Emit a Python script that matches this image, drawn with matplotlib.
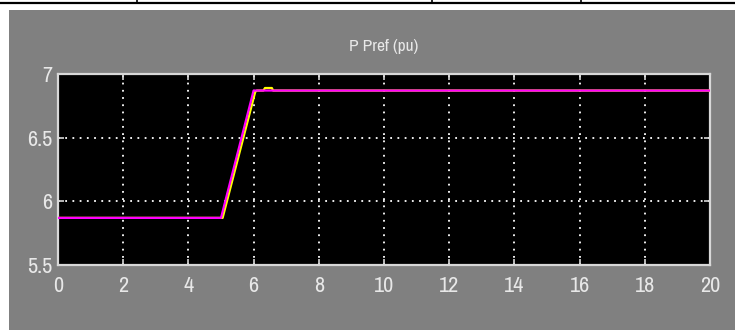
import matplotlib
matplotlib.use('Agg')
import matplotlib.pyplot as plt
from matplotlib import font_manager
from matplotlib.lines import Line2D
from matplotlib.patches import Rectangle

# Scope data (time in s, power in pu)
t_ref = [0, 5, 6, 20]
p_ref = [5.87, 5.87, 6.87, 6.87]

t_meas = [0, 5.05, 6.05, 6.1, 6.3, 6.35, 6.56, 6.6, 20]
p_meas = [5.87, 5.87, 6.86, 6.87, 6.87, 6.89, 6.89, 6.87, 6.87]

xticks = [0, 2, 4, 6, 8, 10, 12, 14, 16, 18, 20]
yticks = [5.5, 6, 6.5, 7]
ytick_labels = ['5.5', '6', '6.5', '7']

W, H = 735, 330
col_txt = '#e8e8e8'

# the scope uses a narrow font - take a condensed face if there is one
narrow = sorted({f.name for f in font_manager.fontManager.ttflist
                 if 'narrow' in f.name.lower() or 'condensed' in f.name.lower()})
fnt = narrow[:1] + ['Liberation Sans', 'DejaVu Sans']
fs_tick = 16 if narrow else 12.5
fs_title = 12.5 if narrow else 11

fig = plt.figure(figsize=(W / 100, H / 100), dpi=100)
fig.patch.set_facecolor('white')

# gray scope window + the table border above it
fig.add_artist(Rectangle((9 / W, 0), 1, 1 - 10 / H, transform=fig.transFigure,
                         facecolor='#808080', edgecolor='none', zorder=0))
fig.add_artist(Line2D([0, 1], [1 - 2.5 / H] * 2, transform=fig.transFigure,
                      color='black', lw=1.6))
for xp in [137, 432, 581]:
    fig.add_artist(Line2D([xp / W] * 2, [1 - 3 / H, 1], transform=fig.transFigure,
                          color='black', lw=1.2))

ax = fig.add_axes([58 / W, 65 / H, 652 / W, 191 / H])
ax.set_facecolor('black')

ax.plot(t_meas, p_meas, color='#ffff00', lw=1.6, zorder=3)
ax.plot(t_ref, p_ref, color='#ff00ff', lw=1.6, zorder=4)

ax.set_xlim(0, 20)
ax.set_ylim(5.5, 7)
ax.set_xticks(xticks)
ax.set_yticks(yticks)
ax.set_yticklabels(ytick_labels)
ax.grid(True, color='white', linestyle=(0, (1, 3)), linewidth=1.3)

for sp in ax.spines.values():
    sp.set_color('#d8d8d8')
    sp.set_linewidth(1.6)

ax.tick_params(direction='in', length=4, width=1.2, color='#d8d8d8',
               top=True, right=True, labelcolor=col_txt)
ax.tick_params(axis='x', pad=8)
ax.tick_params(axis='y', pad=4)
for lab in ax.get_xticklabels() + ax.get_yticklabels():
    lab.set_family(fnt)
    lab.set_fontsize(fs_tick)

fig.text(384 / W, 1 - 46 / H, 'P Pref (pu)', ha='center', va='center',
         color=col_txt, fontsize=fs_title, family=fnt)

fig.savefig('out.png', dpi=100, facecolor=fig.get_facecolor())
